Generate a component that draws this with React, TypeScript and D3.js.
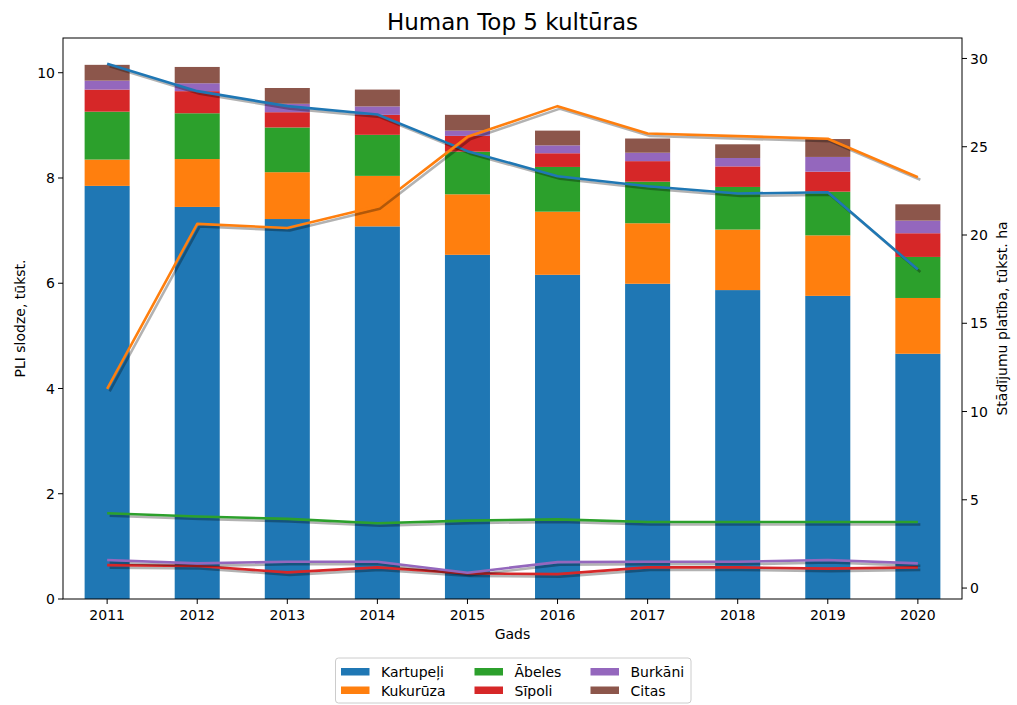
import React from "react";
import * as d3 from "d3";

const years = ["2011", "2012", "2013", "2014", "2015", "2016", "2017", "2018", "2019", "2020"];
const seriesNames = ["Kartupeļi", "Kukurūza", "Ābeles", "Sīpoli", "Burkāni", "Citas"];
const colors = ["#1f77b4", "#ff7f0e", "#2ca02c", "#d62728", "#9467bd", "#8c564b"];

// PLI slodze (stacked bars, left axis)
const pliKartupeli = [7.85, 7.45, 7.22, 7.08, 6.54, 6.16, 5.99, 5.87, 5.76, 4.66];
const pliKukuruza = [0.50, 0.91, 0.89, 0.96, 1.15, 1.20, 1.15, 1.15, 1.15, 1.06];
const pliAbeles = [0.91, 0.87, 0.85, 0.78, 0.81, 0.85, 0.79, 0.81, 0.83, 0.78];
const pliSipoli = [0.42, 0.42, 0.29, 0.38, 0.30, 0.26, 0.39, 0.39, 0.38, 0.45];
const pliBurkani = [0.17, 0.15, 0.16, 0.16, 0.10, 0.15, 0.16, 0.16, 0.28, 0.24];
const pliCitas = [0.30, 0.31, 0.30, 0.32, 0.30, 0.28, 0.27, 0.26, 0.34, 0.31];

// Stādījumu platība (lines, right axis)
const areaKartupeli = [29.7, 28.15, 27.3, 26.83, 24.75, 23.33, 22.76, 22.35, 22.42, 18.04];
const areaKukuruza = [11.29, 20.63, 20.4, 21.63, 25.56, 27.3, 25.75, 25.6, 25.45, 23.27];
const areaAbeles = [4.24, 4.05, 3.92, 3.67, 3.82, 3.89, 3.74, 3.74, 3.74, 3.74];
const areaSipoli = [1.30, 1.25, 0.89, 1.17, 0.83, 0.79, 1.17, 1.17, 1.10, 1.17];
const areaBurkani = [1.59, 1.40, 1.49, 1.49, 0.87, 1.47, 1.49, 1.49, 1.59, 1.40];

const leftTicks = [0, 2, 4, 6, 8, 10];
const rightTicks = [0, 5, 10, 15, 20, 25, 30];

const W = 1017;
const H = 705;
const L = 63;
const R = 962;
const T = 38;
const B = 599;
const FONT = "DejaVu Sans, sans-serif";
const FS = 14;

export default function App() {
  const x = d3.scaleLinear().domain([-0.49, 9.49]).range([L, R]);
  const yL = d3.scaleLinear().domain([0, 10.66]).range([B, T]);
  const yR = d3.scaleLinear().domain([-0.62, 31.16]).range([B, T]);
  const barW = x(0.5) - x(0);

  const pliSeries = [pliKartupeli, pliKukuruza, pliAbeles, pliSipoli, pliBurkani, pliCitas];
  const table = years.map((yr, i) => {
    const row: any = { year: yr };
    seriesNames.forEach((n, k) => (row[n] = pliSeries[k][i]));
    return row;
  });
  const stacked = d3.stack().keys(seriesNames)(table);

  const lineSeries = [areaKartupeli, areaKukuruza, areaAbeles, areaSipoli, areaBurkani];
  const lineGen = d3
    .line<number>()
    .x((_, i) => x(i))
    .y((d) => yR(d));

  const legendItems = [
    { name: seriesNames[0], c: colors[0], col: 0, row: 0 },
    { name: seriesNames[1], c: colors[1], col: 0, row: 1 },
    { name: seriesNames[2], c: colors[2], col: 1, row: 0 },
    { name: seriesNames[3], c: colors[3], col: 1, row: 1 },
    { name: seriesNames[4], c: colors[4], col: 2, row: 0 },
    { name: seriesNames[5], c: colors[5], col: 2, row: 1 },
  ];
  const colX = [341, 474.5, 590.5];

  return (
    <svg
      width={W}
      height={H}
      style={{ position: "absolute", left: 0, top: 0, background: "#fff" }}
      fontFamily={FONT}
    >
      <rect x={0} y={0} width={W} height={H} fill="#fff" />
      {/* bars */}
      {stacked.map((s, k) => (
        <g key={s.key} fill={colors[k]}>
          {s.map((d, i) => (
            <rect
              key={i}
              x={x(i) - barW / 2}
              width={barW}
              y={yL(d[1])}
              height={yL(d[0]) - yL(d[1])}
            />
          ))}
        </g>
      ))}
      {/* lines with shadows */}
      {lineSeries.map((vals, k) => (
        <g key={k}>
          <path
            d={lineGen(vals) || ""}
            fill="none"
            stroke="#000"
            strokeOpacity={0.3}
            strokeWidth={2.6}
            strokeLinejoin="round"
            transform="translate(2.5,2.5)"
          />
          <path
            d={lineGen(vals) || ""}
            fill="none"
            stroke={colors[k]}
            strokeWidth={2.6}
            strokeLinejoin="round"
          />
        </g>
      ))}
      {/* frame */}
      <rect x={L} y={T} width={R - L} height={B - T} fill="none" stroke="#000" strokeWidth={1} />
      {/* x ticks */}
      {years.map((yr, i) => (
        <g key={yr}>
          <line x1={x(i)} x2={x(i)} y1={B} y2={B + 5} stroke="#000" />
          <text x={x(i)} y={B + 21} textAnchor="middle" fontSize={FS}>
            {yr}
          </text>
        </g>
      ))}
      {/* left ticks */}
      {leftTicks.map((t) => (
        <g key={t}>
          <line x1={L - 5} x2={L} y1={yL(t)} y2={yL(t)} stroke="#000" />
          <text x={L - 8} y={yL(t)} dy="0.36em" textAnchor="end" fontSize={FS}>
            {t}
          </text>
        </g>
      ))}
      {/* right ticks */}
      {rightTicks.map((t) => (
        <g key={t}>
          <line x1={R} x2={R + 5} y1={yR(t)} y2={yR(t)} stroke="#000" />
          <text x={R + 8} y={yR(t)} dy="0.36em" textAnchor="start" fontSize={FS}>
            {t}
          </text>
        </g>
      ))}
      {/* labels */}
      <text x={(L + R) / 2} y={30} textAnchor="middle" fontSize={23}>
        Human Top 5 kultūras
      </text>
      <text x={(L + R) / 2} y={639} textAnchor="middle" fontSize={FS}>
        Gads
      </text>
      <text
        transform={`translate(25,${(T + B) / 2}) rotate(-90)`}
        textAnchor="middle"
        fontSize={FS}
      >
        PLI slodze, tūkst.
      </text>
      <text
        transform={`translate(1007,${(T + B) / 2}) rotate(-90)`}
        textAnchor="middle"
        fontSize={FS}
      >
        Stādījumu platība, tūkst. ha
      </text>
      {/* legend */}
      <rect x={335.5} y={658} width={355.5} height={45} rx={3} fill="#fff" fillOpacity={0.8} stroke="#ccc" />
      {legendItems.map((it) => (
        <g key={it.name}>
          <rect x={colX[it.col]} y={668 + it.row * 18.5} width={28.5} height={7.5} fill={it.c} />
          <text x={colX[it.col] + 40} y={676.5 + it.row * 19.5} fontSize={FS}>
            {it.name}
          </text>
        </g>
      ))}
    </svg>
  );
}
